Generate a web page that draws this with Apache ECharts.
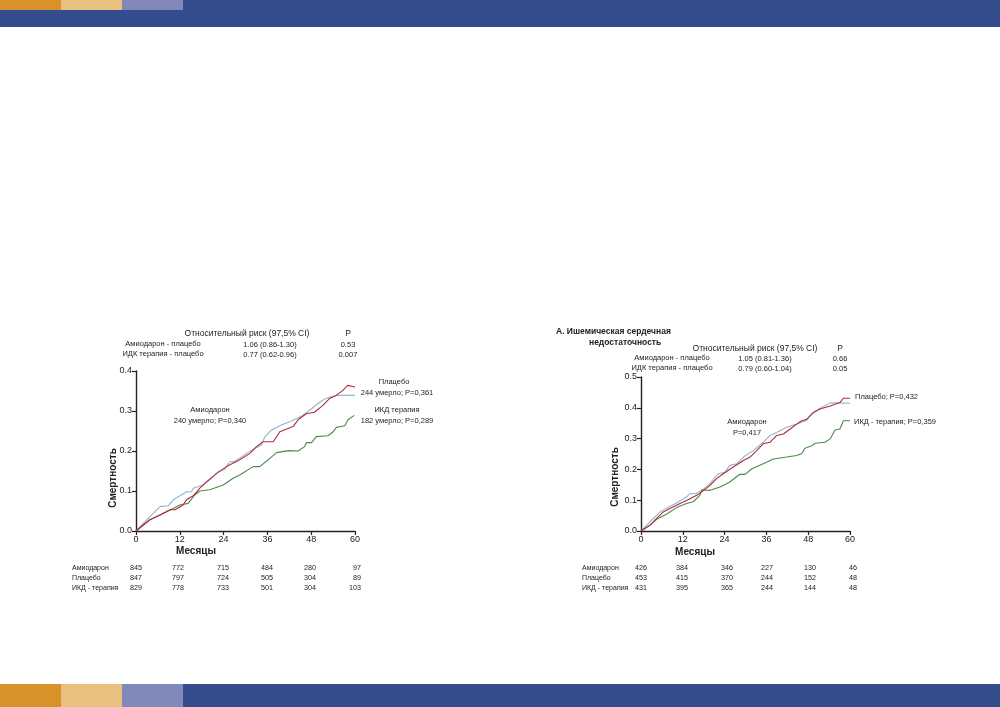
<!DOCTYPE html>
<html>
<head>
<meta charset="utf-8">
<script src="https://cdn.jsdelivr.net/npm/echarts@6/dist/echarts.min.js"></script>
<style>
  html, body { margin: 0; padding: 0; background: #fff; }
  #main { width: 1000px; height: 707px; }
</style>
</head>
<body>
<div id="main"></div>
<script>
var dom = document.getElementById("main");
var chart = echarts.init(dom);

// all patients: [month, mortality]
var allAmio = [[0,0],[3.8,0.036],[6.6,0.061],[8.8,0.063],[10.2,0.078],[13.9,0.098],[15.2,0.098],[15.7,0.107],[18.4,0.115],[20.7,0.132],[22.5,0.148],[24.3,0.154],[25.7,0.173],[27.1,0.174],[30.3,0.194],[32.1,0.204],[34.4,0.215],[35.3,0.236],[37.1,0.252],[39.8,0.265],[42.6,0.275],[45.7,0.289],[48,0.305],[50.3,0.322],[52,0.331],[54.8,0.339],[60,0.339]];
var allPlacebo = [[0,0],[3.8,0.028],[6.6,0.04],[9.3,0.053],[10.7,0.053],[12.9,0.065],[13.9,0.079],[15.7,0.088],[17.5,0.107],[19.3,0.123],[22.1,0.144],[24.8,0.161],[28.4,0.178],[31.2,0.194],[33,0.211],[34.8,0.223],[37.6,0.223],[39.4,0.248],[43,0.261],[44.4,0.278],[46.6,0.293],[48.9,0.297],[51.2,0.314],[53,0.331],[54.8,0.339],[56.6,0.351],[58,0.364],[60,0.36]];
var allIcd = [[0,0],[3.8,0.028],[8.4,0.048],[12,0.065],[14.3,0.069],[16.1,0.09],[17.5,0.1],[20.2,0.103],[23.9,0.115],[26.6,0.132],[28.4,0.14],[32.1,0.161],[33.9,0.161],[36.2,0.178],[38.5,0.196],[41.7,0.201],[44.4,0.2],[46.2,0.211],[46.7,0.221],[48.1,0.221],[49.4,0.236],[52.6,0.238],[54,0.248],[54.9,0.259],[57.2,0.263],[58.1,0.278],[58.5,0.278],[59.8,0.289]];

// ischemic heart failure
var ischAmio = [[0,0],[2.6,0.03],[5.5,0.062],[7.4,0.075],[10.2,0.091],[13.1,0.111],[14.1,0.122],[15.5,0.121],[16,0.127],[17.4,0.13],[19.8,0.154],[22.2,0.186],[24.1,0.191],[25.5,0.213],[27.5,0.218],[29.4,0.24],[32.2,0.261],[35.1,0.288],[37,0.31],[38.9,0.32],[41.8,0.337],[44.7,0.347],[47.6,0.36],[49,0.38],[50.9,0.395],[54.3,0.416],[56.6,0.416],[60,0.415]];
var ischPlacebo = [[0,0],[2.6,0.019],[4.5,0.041],[6.4,0.062],[8.3,0.073],[11.2,0.089],[14.1,0.105],[16.9,0.122],[19.8,0.148],[21.7,0.17],[23.6,0.186],[26.5,0.208],[29.4,0.229],[31.3,0.24],[33.2,0.261],[35.1,0.283],[37,0.288],[38.9,0.31],[40.9,0.315],[42.8,0.331],[44.7,0.347],[46.1,0.358],[47.6,0.363],[49.5,0.385],[51.4,0.396],[54.3,0.406],[57.1,0.417],[58.1,0.431],[60,0.431]];
var ischIcd = [[0,0],[2.6,0.019],[4.5,0.038],[7.4,0.055],[10.2,0.076],[13.1,0.089],[15,0.095],[16.9,0.116],[17.4,0.133],[19.8,0.132],[22.7,0.143],[25.5,0.159],[27.5,0.177],[28.4,0.184],[29.9,0.184],[31.8,0.202],[35.1,0.218],[38,0.234],[41.8,0.24],[44.7,0.245],[46.1,0.251],[47.1,0.269],[49,0.277],[50,0.285],[52.8,0.288],[54.3,0.299],[55.7,0.328],[57.1,0.331],[58.1,0.358],[60,0.358]];

var monthTicks = [0, 12, 24, 36, 48, 60];
var rowNames = ["Амиодарон", "Плацебо", "ИКД - терапия"];
var allAtRisk = [
  [845, 772, 715, 484, 280, 97],
  [847, 797, 724, 505, 304, 89],
  [829, 778, 733, 501, 304, 103]
];
var ischAtRisk = [
  [426, 384, 346, 227, 130, 46],
  [453, 415, 370, 244, 152, 48],
  [431, 395, 365, 244, 144, 48]
];

var font = "Liberation Sans, Arial, sans-serif";
var blue = "#8db6d2", red = "#b5283f", green = "#4b8b4b";

function txt(x, y, s, opt) {
  opt = opt || {};
  return {
    type: "text", x: x, y: y, silent: true,
    style: {
      text: s, fill: "#222", fontFamily: font,
      fontSize: opt.size || 7.5, fontWeight: opt.bold ? "bold" : "normal",
      align: opt.align || "center", verticalAlign: "middle"
    },
    rotation: opt.rot || 0
  };
}

function xAxisOpt(idx) {
  return {
    type: "value", gridIndex: idx, min: 0, max: 60, interval: 12,
    axisLine: { show: true, lineStyle: { color: "#222", width: 1.4 } },
    axisTick: { show: true, length: 4, lineStyle: { color: "#222", width: 1.2 } },
    axisLabel: { color: "#222", fontSize: 9, fontFamily: font, margin: 4 },
    splitLine: { show: false }
  };
}
function yAxisOpt(idx, max) {
  return {
    type: "value", gridIndex: idx, min: 0, max: max, interval: 0.1,
    axisLine: { show: true, lineStyle: { color: "#222", width: 1.4 } },
    axisTick: { show: true, length: 4, lineStyle: { color: "#222", width: 1.2 } },
    axisLabel: { color: "#222", fontSize: 9, fontFamily: font, margin: 4,
      formatter: function (v) { return v.toFixed(1); } },
    splitLine: { show: false }
  };
}
function line(data, color, idx) {
  return {
    type: "line", data: data, xAxisIndex: idx, yAxisIndex: idx,
    showSymbol: false, animation: false,
    lineStyle: { color: color, width: 1.1 }
  };
}

var graphics = [
  // top band
  { type: "rect", shape: { x: 0, y: 0, width: 1000, height: 27 }, style: { fill: "#364d8d" } },
  { type: "rect", shape: { x: 0, y: 0, width: 61, height: 10 }, style: { fill: "#d8922a" } },
  { type: "rect", shape: { x: 61, y: 0, width: 61, height: 10 }, style: { fill: "#e8c17f" } },
  { type: "rect", shape: { x: 122, y: 0, width: 61, height: 10 }, style: { fill: "#8189ba" } },
  // bottom band
  { type: "rect", shape: { x: 0, y: 684, width: 1000, height: 23 }, style: { fill: "#364d8d" } },
  { type: "rect", shape: { x: 0, y: 684, width: 61, height: 23 }, style: { fill: "#d8922a" } },
  { type: "rect", shape: { x: 61, y: 684, width: 61, height: 23 }, style: { fill: "#e8c17f" } },
  { type: "rect", shape: { x: 122, y: 684, width: 61, height: 23 }, style: { fill: "#8189ba" } },

  // left panel texts
  txt(247, 334, "Относительный риск (97,5% CI)", { size: 8.5 }),
  txt(348, 334, "P", { size: 8.5 }),
  txt(163, 344, "Амиодарон - плацебо"),
  txt(270, 345, "1.06 (0.86-1.30)"),
  txt(348, 345, "0.53"),
  txt(163, 354, "ИДК терапия - плацебо"),
  txt(270, 355, "0.77 (0.62-0.96)"),
  txt(348, 355, "0.007"),
  txt(394, 382, "Плацебо"),
  txt(397, 393, "244 умерло; P=0,361"),
  txt(397, 410, "ИКД терапия"),
  txt(397, 421, "182 умерло; P=0,289"),
  txt(210, 410, "Амиодарон"),
  txt(210, 421, "240 умерло; P=0,340"),
  txt(196, 551, "Месяцы", { size: 10, bold: true }),
  txt(113, 478, "Смертность", { size: 10, bold: true, rot: Math.PI / 2 }),

  // right panel texts
  txt(556, 332, "А. Ишемическая сердечная", { size: 8.5, bold: true, align: "left" }),
  txt(589, 343, "недостаточность", { size: 8.5, bold: true, align: "left" }),
  txt(755, 349, "Относительный риск (97,5% CI)", { size: 8.5 }),
  txt(840, 349, "P", { size: 8.5 }),
  txt(672, 358, "Амиодарон - плацебо"),
  txt(765, 359, "1.05 (0.81-1.36)"),
  txt(840, 359, "0.66"),
  txt(672, 368, "ИДК терапия - плацебо"),
  txt(765, 369, "0.79 (0.60-1.04)"),
  txt(840, 369, "0.05"),
  txt(747, 422, "Амиодарон"),
  txt(747, 433, "P=0,417"),
  txt(855, 397, "Плацебо; P=0,432", { align: "left" }),
  txt(854, 422, "ИКД - терапия; P=0,359", { align: "left" }),
  txt(695, 552, "Месяцы", { size: 10, bold: true }),
  txt(615, 477, "Смертность", { size: 10, bold: true, rot: Math.PI / 2 })
];

// numbers at risk tables
var allCols = [142, 184, 229, 273, 316, 361];
var ischCols = [647, 688, 733, 773, 816, 857];
rowNames.forEach(function (name, r) {
  graphics.push(txt(72, 568 + r * 10, name, { size: 7, align: "left" }));
  graphics.push(txt(582, 568 + r * 10, name, { size: 7, align: "left" }));
  allAtRisk[r].forEach(function (v, c) {
    graphics.push(txt(allCols[c], 568 + r * 10, String(v), { size: 7.2, align: "right" }));
  });
  ischAtRisk[r].forEach(function (v, c) {
    graphics.push(txt(ischCols[c], 568 + r * 10, String(v), { size: 7.2, align: "right" }));
  });
});

chart.setOption({
  animation: false,
  grid: [
    { left: 136, right: 645, top: 371, bottom: 176 },
    { left: 641, right: 150, top: 377, bottom: 176 }
  ],
  xAxis: [xAxisOpt(0), xAxisOpt(1)],
  yAxis: [yAxisOpt(0, 0.4), yAxisOpt(1, 0.5)],
  series: [
    line(allAmio, blue, 0),
    line(allIcd, green, 0),
    line(allPlacebo, red, 0),
    line(ischAmio, blue, 1),
    line(ischIcd, green, 1),
    line(ischPlacebo, red, 1)
  ],
  graphic: graphics
});
</script>
</body>
</html>
